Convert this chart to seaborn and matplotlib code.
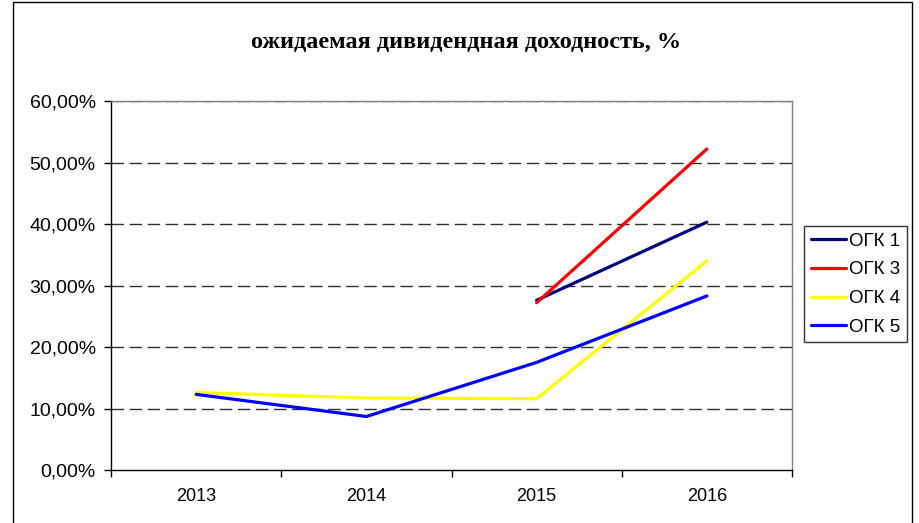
import numpy as np
import pandas as pd
import matplotlib
matplotlib.use("Agg")
import matplotlib.pyplot as plt
from matplotlib.patches import Rectangle
from matplotlib.ticker import FuncFormatter, FixedLocator
import seaborn as sns

years = ["2013", "2014", "2015", "2016"]
ogk1 = [np.nan, np.nan, 27.6, 40.3]
ogk3 = [np.nan, np.nan, 27.2, 52.2]
ogk4 = [12.6, 11.7, 11.6, 34.0]
ogk5 = [12.3, 8.7, 17.5, 28.3]
series_names = ["ОГК 1", "ОГК 3", "ОГК 4", "ОГК 5"]
colors = ["#000080", "#FF0000", "#FFFF00", "#0000FF"]
title = "ожидаемая дивидендная доходность, %"

rows = []
for name, vals in zip(series_names, [ogk1, ogk3, ogk4, ogk5]):
    for i, v in enumerate(vals):
        rows.append({"x": i, "value": v, "series": name})
df = pd.DataFrame(rows)

sns.set_theme(style="white")
plt.rcParams["font.family"] = ["Liberation Sans", "DejaVu Sans"]
plt.rcParams["text.color"] = "black"

fig = plt.figure(figsize=(9.19, 5.23), dpi=100)
ax = fig.add_axes([111/919, 1-470/523, (792-111)/919, (470-101)/523])

sns.lineplot(data=df, x="x", y="value", hue="series",
             palette=dict(zip(series_names, colors)), hue_order=series_names,
             linewidth=2.3, ax=ax, legend=False)

ax.set_xlim(-0.5, 3.5)
ax.set_ylim(0, 60)
ax.set_yticks(np.arange(0, 61, 10))
ax.yaxis.set_major_formatter(FuncFormatter(lambda v, p: f"{v:.2f}".replace(".", ",") + "%"))
ax.set_xticks(range(4))
ax.set_xticklabels(years)
ax.xaxis.set_minor_locator(FixedLocator([-0.5, 0.5, 1.5, 2.5, 3.5]))
ax.tick_params(axis="x", which="major", length=0, pad=13, labelsize=13, colors="black")
ax.tick_params(axis="x", which="minor", length=5, width=1, color="black", direction="out", bottom=True)
ax.tick_params(axis="y", which="major", length=5, width=1, color="black", direction="out", left=True,
               labelsize=14, pad=6, labelcolor="black")
ax.set_xlabel("")
ax.set_ylabel("")

for y in range(10, 61, 10):
    ax.axhline(y, color="#303030", linewidth=1, linestyle=(0, (9, 4)), zorder=0)

for s in ["left", "bottom"]:
    ax.spines[s].set_color("black")
    ax.spines[s].set_linewidth(1)
for s in ["top", "right"]:
    ax.spines[s].set_color("#808080")
    ax.spines[s].set_linewidth(1)

fig.text(466/919, 1-42/523, title, ha="center", va="center", color="black",
         fontsize=17.5, fontweight="bold", family=["Liberation Serif", "DejaVu Serif"])

handles = [plt.Line2D([0], [0], color=c, linewidth=2.3) for c in colors]
leg = fig.legend(handles, series_names, loc="upper left",
                 bbox_to_anchor=(804/919, 1-226/523), frameon=True,
                 fontsize=13.5, handlelength=1.9, handletextpad=0.15,
                 borderpad=0.35, labelspacing=0.62, borderaxespad=0,
                 fancybox=False)
leg.get_frame().set_edgecolor("black")
leg.get_frame().set_linewidth(1)
for t in leg.get_texts():
    t.set_color("black")

fig.patches.append(Rectangle((13/919, -0.05), (912-13)/919, 1.05 - 2/523,
                             transform=fig.transFigure, fill=False,
                             edgecolor="black", linewidth=1))

fig.savefig("out.png", dpi=100)
